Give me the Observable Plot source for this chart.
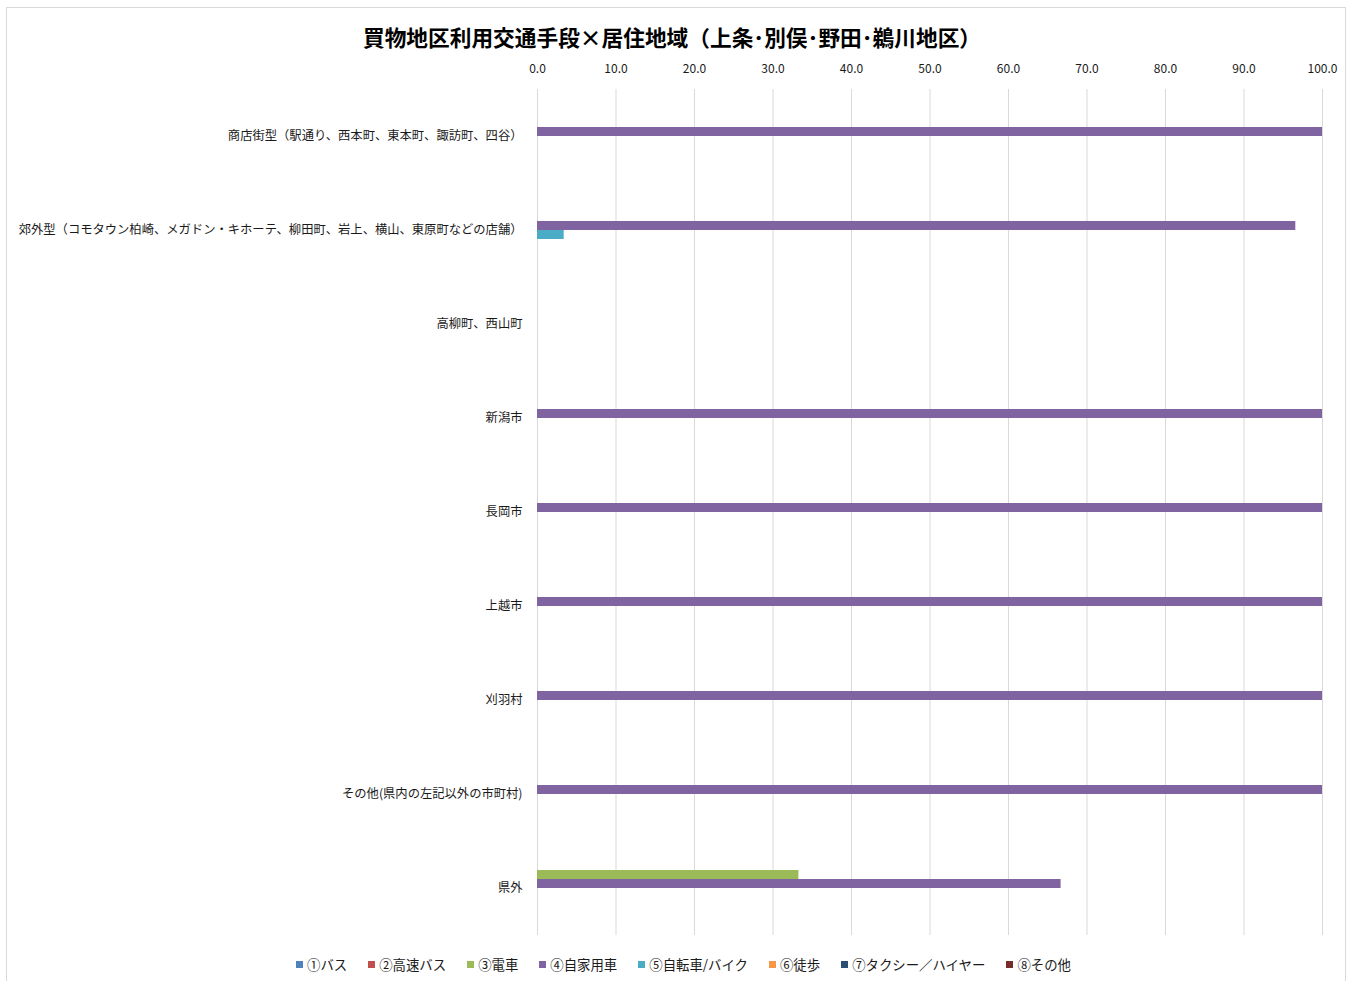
<!DOCTYPE html>
<html>
<head>
<meta charset="utf-8">
<script src="https://cdn.jsdelivr.net/npm/d3@7"></script>
<script src="https://cdn.jsdelivr.net/npm/@observablehq/plot@0.6"></script>
<style>
  html, body { margin: 0; padding: 0; background: #fff; }
  body { width: 1348px; height: 981px; position: relative; overflow: hidden;
         font-family: "Noto Sans CJK JP", "Noto Sans", sans-serif; }
  #frame { position: absolute; left: 6px; top: 7px; width: 1340px; height: 1100px;
           border: 1px solid #d9d9d9; box-sizing: border-box; }
  #title { position: absolute; top: 21px; left: 10px; width: 1324px; text-align: center;
           font-size: 21.7px; font-weight: bold; color: #000; white-space: nowrap; }
  #chart { position: absolute; left: 0; top: 47px; }
  #legend { position: absolute; top: 954px; left: 296px; display: flex; align-items: center;
            font-size: 13.4px; color: #1a1a1a; white-space: nowrap; }
  .item { display: flex; align-items: center; margin-right: 21px; }
  .sw { width: 7px; height: 7px; margin-right: 4px; }
</style>
</head>
<body>
<div id="frame"></div>
<div id="title">買物地区利用交通手段×居住地域（上条･別俣･野田･鵜川地区）</div>
<div id="chart"></div>
<div id="legend"></div>
<script>
const categories = [
  "商店街型（駅通り、西本町、東本町、諏訪町、四谷）",
  "郊外型（コモタウン柏崎、メガドン・キホーテ、柳田町、岩上、横山、東原町などの店舗）",
  "高柳町、西山町",
  "新潟市",
  "長岡市",
  "上越市",
  "刈羽村",
  "その他(県内の左記以外の市町村)",
  "県外"
];
const series = ["①バス", "②高速バス", "③電車", "④自家用車", "⑤自転車/バイク", "⑥徒歩", "⑦タクシー／ハイヤー", "⑧その他"];
const colors = ["#4F81BD", "#C0504D", "#9BBB59", "#8064A2", "#4BACC6", "#F79646", "#2C4D75", "#772C2A"];
const xTicks = [0, 10, 20, 30, 40, 50, 60, 70, 80, 90, 100];

const bus      = [0, 0, 0, 0, 0, 0, 0, 0, 0];
const highway  = [0, 0, 0, 0, 0, 0, 0, 0, 0];
const train    = [0, 0, 0, 0, 0, 0, 0, 0, 33.3];
const car      = [100, 96.6, 0, 100, 100, 100, 100, 100, 66.7];
const bicycle  = [0, 3.4, 0, 0, 0, 0, 0, 0, 0];
const walk     = [0, 0, 0, 0, 0, 0, 0, 0, 0];
const taxi     = [0, 0, 0, 0, 0, 0, 0, 0, 0];
const other    = [0, 0, 0, 0, 0, 0, 0, 0, 0];
const seriesValues = [bus, highway, train, car, bicycle, walk, taxi, other];

const data = [];
categories.forEach((c, i) => {
  series.forEach((s, j) => {
    data.push({category: c, series: s, value: seriesValues[j][i]});
  });
});

const chart = Plot.plot({
  width: 1348,
  height: 893,
  marginLeft: 537,
  marginRight: 26,
  marginTop: 41,
  marginBottom: 5,
  style: {fontSize: "12px", fontFamily: "'Noto Sans CJK JP', 'Noto Sans', sans-serif", color: "#1a1a1a", background: "transparent"},
  x: {domain: [0, 100], ticks: xTicks, axis: "top", tickSize: 0, tickPadding: 17, tickFormat: d3.format(".1f"), label: null},
  y: {domain: series, paddingInner: 0, paddingOuter: 0.705, axis: null},
  fy: {domain: categories, padding: 0, axis: "left", tickSize: 0, tickPadding: 15, label: null},
  color: {domain: series, range: colors},
  marks: [
    Plot.gridX(xTicks, {stroke: "#d9d9d9", strokeOpacity: 1, strokeWidth: 1}),
    Plot.barX(data, {x: "value", y: "series", fy: "category", fill: "series"})
  ]
});
document.getElementById("chart").appendChild(chart);
d3.select(chart).selectAll('g[aria-label="fy-axis tick label"] text, g[aria-label="fy-axis tick label"]').style("font-size", "12.3px");

const legend = d3.select("#legend");
series.forEach((s, j) => {
  const it = legend.append("div").attr("class", "item");
  it.append("div").attr("class", "sw").style("background", colors[j]);
  it.append("span").text(s);
});
</script>
</body>
</html>
